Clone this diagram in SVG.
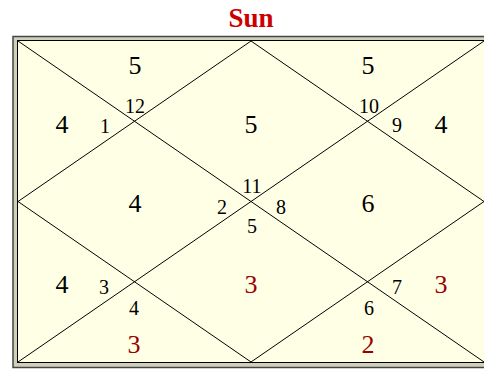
<svg xmlns="http://www.w3.org/2000/svg" width="484" height="369" viewBox="0 0 484 369">
<style>
.t{font-family:"Liberation Serif","Times New Roman",serif;text-anchor:middle}
.big{font-size:26px;fill:#000}
.sm{font-size:20px;fill:#000}
.red{fill:#990000}
.ttl{font-size:27px;font-weight:bold;fill:#CC0000}
.ln{stroke:#000;stroke-width:1;fill:none}
</style>
<rect width="484" height="369" fill="#FFFFFF"/>
<text class="t ttl" x="251" y="27">Sun</text>
<g id="frame">
<rect x="13" y="36.5" width="480" height="331" fill="#CFCFBA" stroke="#444" stroke-width="1.5"/>
<rect x="17.5" y="40.5" width="470" height="322" fill="#FFFFE6" stroke="#000" stroke-width="1"/>
</g>
<g id="connectors" class="ln">
<line x1="18" y1="41" x2="484" y2="362"/>
<line x1="18" y1="362" x2="484" y2="41"/>
<polyline points="251,41 18,201.5 251,362 484,201.5 251,41"/>
</g>
<g id="house1"><text class="t big" x="251" y="133">5</text><text class="t sm" x="252" y="193">11</text></g>
<g id="house2"><text class="t big" x="135" y="74">5</text><text class="t sm" x="135" y="113">12</text></g>
<g id="house3"><text class="t big" x="62" y="133">4</text><text class="t sm" x="105" y="133">1</text></g>
<g id="house4"><text class="t big" x="135" y="212">4</text><text class="t sm" x="222" y="214">2</text></g>
<g id="house5"><text class="t big" x="62" y="293">4</text><text class="t sm" x="104" y="294">3</text></g>
<g id="house6"><text class="t big red" x="134" y="353">3</text><text class="t sm" x="134" y="315">4</text></g>
<g id="house7"><text class="t big red" x="251" y="293">3</text><text class="t sm" x="252" y="233">5</text></g>
<g id="house8"><text class="t big red" x="368" y="353">2</text><text class="t sm" x="369" y="315">6</text></g>
<g id="house9"><text class="t big red" x="441" y="293">3</text><text class="t sm" x="397" y="294">7</text></g>
<g id="house10"><text class="t big" x="368" y="212">6</text><text class="t sm" x="281" y="214">8</text></g>
<g id="house11"><text class="t big" x="441" y="133">4</text><text class="t sm" x="397" y="132">9</text></g>
<g id="house12"><text class="t big" x="368" y="74">5</text><text class="t sm" x="369" y="113">10</text></g>
</svg>
